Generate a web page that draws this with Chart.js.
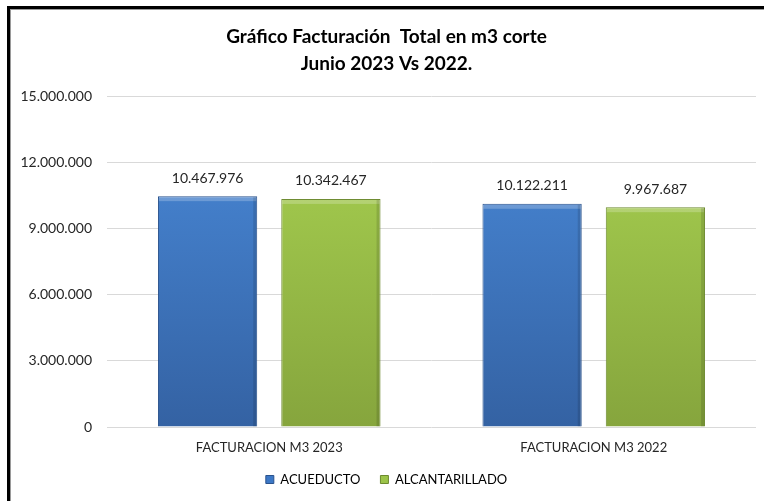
<!DOCTYPE html>
<html>
<head>
<meta charset="utf-8">
<script src="https://cdn.jsdelivr.net/npm/chart.js@4"></script>
<style>
  html, body { margin: 0; padding: 0; background: #fff; }
  #wrap { position: relative; width: 764px; height: 501px; overflow: hidden; }
  #chart { position: absolute; left: 0; top: 0; }
  /* black frame of the original screenshot (top + left only) */
  #frame {
    position: absolute; left: 7px; top: 6px; right: -10px; bottom: -10px;
    border-top: 3px solid #000; border-left: 3px solid #000;
    box-shadow: inset 1px 1px 0 #9a9a9a;
    pointer-events: none;
  }
</style>
</head>
<body>
<div id="wrap">
  <canvas id="chart" width="764" height="501"></canvas>
  <div id="frame"></div>
</div>
<script>
// ---------------- data ----------------
const categories = ['FACTURACION M3 2023', 'FACTURACION M3 2022'];
const seriesNames = ['ACUEDUCTO', 'ALCANTARILLADO'];
const acueducto = [10467976, 10122211];
const alcantarillado = [10342467, 9967687];
const yMax = 15000000;
const yStep = 3000000;
const titleLines = ['Gráfico Facturación  Total en m3 corte', 'Junio 2023 Vs 2022.'];

// colours: [top, bottom, edge]
const blueCols = ['#4a8bdb', '#3462a3', '#2a528c'];
const greenCols = ['#aad452', '#86a53d', '#6d8a2f'];

// numbers with dots as thousands separator
function fmt(v) {
  return String(Math.round(v)).replace(/\B(?=(\d{3})+(?!\d))/g, '.');
}

// vertical gradient for the bars
function grad(cols) {
  return (ctx) => {
    const area = ctx.chart.chartArea;
    if (!area) return cols[0];
    const g = ctx.chart.ctx.createLinearGradient(0, area.top, 0, area.bottom);
    g.addColorStop(0, cols[0]);
    g.addColorStop(1, cols[1]);
    return g;
  };
}

// value labels above the bars + small bevel highlight
const valueLabels = {
  id: 'valueLabels',
  afterDatasetsDraw(chart) {
    const ctx = chart.ctx;
    ctx.save();
    chart.data.datasets.forEach((ds, i) => {
      const meta = chart.getDatasetMeta(i);
      meta.data.forEach((el, j) => {
        const half = el.width / 2;
        // bevel: light strip on top, dark strip on right
        ctx.fillStyle = 'rgba(255,255,255,0.22)';
        ctx.fillRect(el.x - half + 1, el.y + 1, el.width - 2, 4);
        ctx.fillStyle = 'rgba(0,0,0,0.12)';
        ctx.fillRect(el.x + half - 4, el.y + 1, 3, el.base - el.y - 1);
        // value
        ctx.fillStyle = '#262626';
        ctx.font = '14px Lato, "Open Sans", sans-serif';
        ctx.textAlign = 'center';
        ctx.textBaseline = 'bottom';
        ctx.fillText(fmt(ds.data[j]), el.x, el.y - 11);
      });
    });
    ctx.restore();
  }
};

const chart = new Chart(document.getElementById('chart'), {
  type: 'bar',
  data: {
    labels: categories,
    datasets: [
      {
        label: seriesNames[0],
        data: acueducto,
        backgroundColor: grad(blueCols),
        borderColor: blueCols[2],
        borderWidth: 1,
        categoryPercentage: 0.76,
        barPercentage: 0.805
      },
      {
        label: seriesNames[1],
        data: alcantarillado,
        backgroundColor: grad(greenCols),
        borderColor: greenCols[2],
        borderWidth: 1,
        categoryPercentage: 0.76,
        barPercentage: 0.805
      }
    ]
  },
  options: {
    responsive: false,
    devicePixelRatio: 1,
    animation: false,
    layout: { padding: { left: 17, right: 8, top: 0, bottom: 5 } },
    plugins: {
      title: {
        display: true,
        text: titleLines,
        color: '#000',
        font: { family: 'Lato, "Open Sans", sans-serif', size: 19, weight: 'bold', lineHeight: 1.4 },
        padding: { top: 24, bottom: 19 }
      },
      legend: {
        position: 'bottom',
        labels: {
          color: '#262626',
          font: { family: 'Lato, "Open Sans", sans-serif', size: 13 },
          boxWidth: 8,
          boxHeight: 8,
          padding: 20,
          generateLabels(c) {
            return c.data.datasets.map((ds, i) => ({
              text: ds.label,
              fillStyle: i === 0 ? '#3c78c6' : '#9cc449',
              strokeStyle: i === 0 ? blueCols[2] : greenCols[2],
              lineWidth: 1,
              datasetIndex: i
            }));
          }
        }
      },
      tooltip: { enabled: false }
    },
    scales: {
      x: {
        grid: { display: false, drawTicks: false },
        border: { display: false },
        ticks: {
          color: '#262626',
          padding: 13,
          font: { family: 'Lato, "Open Sans", sans-serif', size: 13 }
        },
        afterFit: (s) => { s.height = 26; }
      },
      y: {
        min: 0,
        max: yMax,
        grid: { color: '#d9d9d9', lineWidth: 1, drawTicks: false },
        border: { display: false },
        ticks: {
          stepSize: yStep,
          color: '#262626',
          padding: 15,
          font: { family: 'Lato, "Open Sans", sans-serif', size: 14 },
          callback: (v) => fmt(v)
        },
        afterFit: (s) => { s.width = 90; }
      }
    }
  },
  plugins: [valueLabels]
});
</script>
</body>
</html>
